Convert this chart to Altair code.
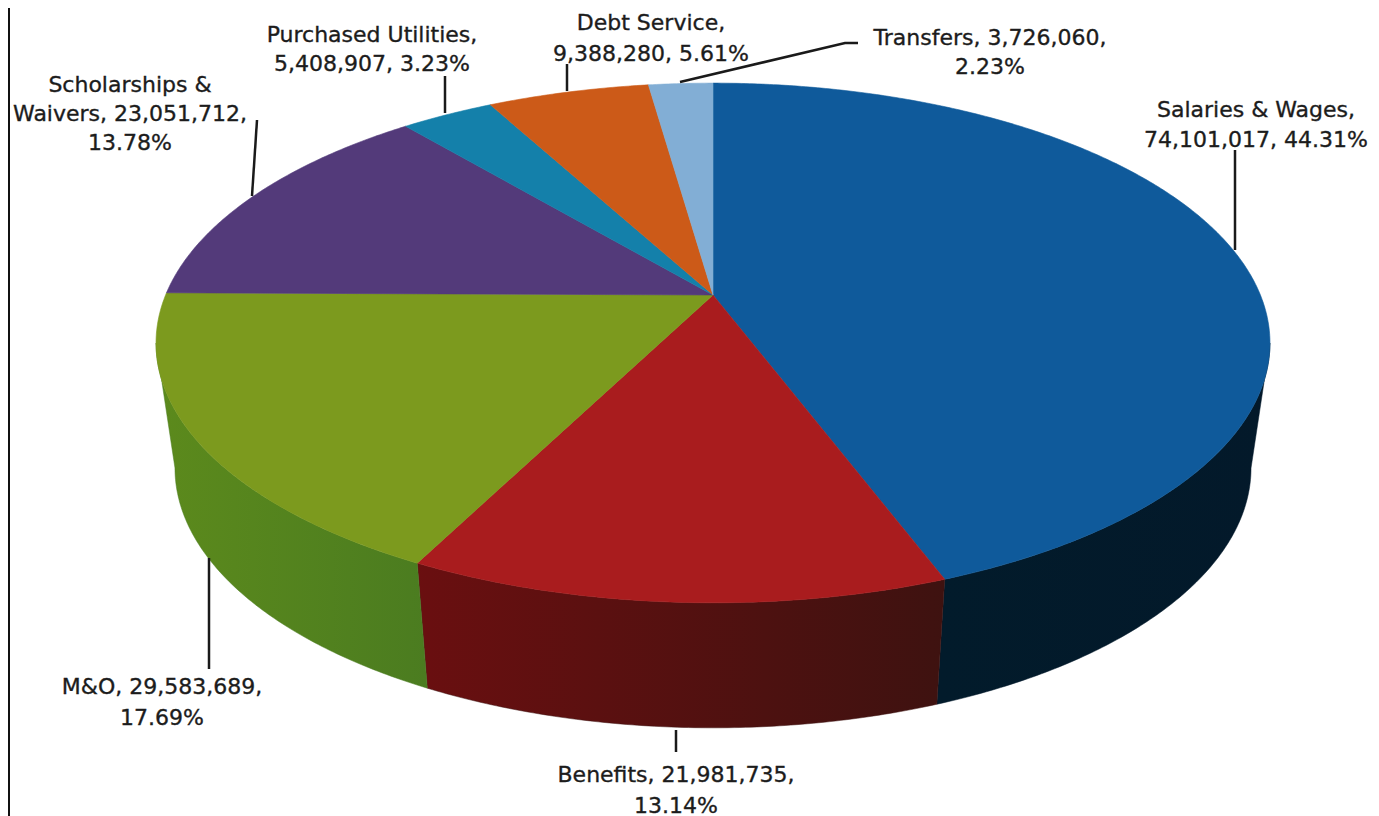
import math
import altair as alt

# ---- chart values -------------------------------------------------------
categories = ["Salaries & Wages", "Benefits", "M&O", "Scholarships & Waivers",
              "Purchased Utilities", "Debt Service", "Transfers"]
amounts = [74101017, 21981735, 29583689, 23051712, 5408907, 9388280, 3726060]
top_colors = ["#0f5a9b", "#a91c1e", "#7c9a1e", "#533a7a", "#1480aa", "#cc5a18", "#82aed5"]

label_lines = ["Salaries & Wages,", "74,101,017, 44.31%",
               "Benefits, 21,981,735,", "13.14%",
               "M&O, 29,583,689,", "17.69%",
               "Scholarships &", "Waivers, 23,051,712,", "13.78%",
               "Purchased Utilities,", "5,408,907, 3.23%",
               "Debt Service,", "9,388,280, 5.61%",
               "Transfers, 3,726,060,", "2.23%"]
label_x = [1256, 1256, 676, 676, 162, 162, 130, 130, 130, 372, 372, 651, 651, 990, 990]
label_y = [109.5, 139.5, 774.5, 805.5, 686.5, 717.5, 84.5, 113.5, 142.5, 34.5, 63.5, 22.5, 53.5, 37.5, 66.5]

leaders = [[(1235, 150), (1235, 250)],
           [(257, 120), (252, 196)],
           [(445, 76), (445, 113)],
           [(567, 64), (567, 91)],
           [(680, 82), (845, 43), (858, 43)],
           [(209, 558), (209, 669)],
           [(676, 730), (676, 752)]]

# ---- pie geometry (perspective view of a circular disc) ----------------
CX, CY, A, B, K = 713, 295, 547.4, 251, 0.1846
DEPTH, SHRINK = 125, 0.966
total = sum(amounts)


def rim(theta, lower=False):
    t = math.radians(theta)
    d = 1 + K * math.cos(t)
    x = A * math.sin(t) / d
    y = -B * math.cos(t) / d
    if lower:
        return (CX + SHRINK * x, CY + DEPTH + y)
    return (CX + x, CY + y)


def arc(t0, t1, lower=False):
    n = max(2, int(abs(t1 - t0) * 2))
    return [rim(t0 + (t1 - t0) * i / n, lower) for i in range(n + 1)]


def poly(points, name):
    pts = [list(p) for p in points]
    pts.append(pts[0])
    return {"type": "Feature", "properties": {"name": name},
            "geometry": {"type": "Polygon", "coordinates": [pts]}}


edges = [0.0]
for v in amounts:
    edges.append(edges[-1] + 360.0 * v / total)

tops = [poly([(CX, CY)] + arc(edges[i], edges[i + 1]), categories[i])
        for i in range(len(categories))]

projection = dict(type="identity", scale=1, translate=[-8, -8])


def feats(features):
    return alt.InlineData(values={"type": "FeatureCollection", "features": features},
                          format=alt.DataFormat(property="features", type="json"))


tangent = math.degrees(math.acos(-K))


def wall(t0, t1, c0, c1):
    shape = poly(arc(t0, t1) + arc(t1, t0, True), "wall")
    grad = alt.LinearGradient(gradient="linear", x1=0, x2=1, y1=0, y2=0,
                              stops=[alt.GradientStop(offset=0, color=c0),
                                     alt.GradientStop(offset=1, color=c1)])
    return alt.Chart(feats([shape])).mark_geoshape(fill=grad, stroke=c1, strokeWidth=0.5).project(**projection)


wall_layers = [
    wall(tangent, edges[1], "#021b2b", "#03192a"),
    wall(edges[1], edges[2], "#6a0f10", "#3e1210"),
    wall(edges[2], 360 - tangent, "#5c8a1c", "#4b7c20"),
]

top_layer = alt.Chart(feats(tops)).mark_geoshape(strokeWidth=0.6).encode(
    fill=alt.Fill("properties.name:N", scale=alt.Scale(domain=categories, range=top_colors), legend=None),
    stroke=alt.Stroke("properties.name:N", scale=alt.Scale(domain=categories, range=top_colors), legend=None),
).project(**projection)

lines = [{"type": "Feature", "properties": {},
          "geometry": {"type": "LineString", "coordinates": [list(p) for p in seg]}}
         for seg in leaders]
leader_layer = alt.Chart(feats(lines)).mark_geoshape(filled=False, stroke="#1a1a1a", strokeWidth=2.5).project(**projection)

frame_line = [{"type": "Feature", "properties": {},
               "geometry": {"type": "LineString", "coordinates": [[8, 0], [8, 816]]}}]
frame_layer = alt.Chart(feats(frame_line)).mark_geoshape(filled=False, stroke="#111111", strokeWidth=4).project(**projection)

text_rows = [{"t": t, "x": x, "y": y} for t, x, y in zip(label_lines, label_x, label_y)]
text_layer = alt.Chart(alt.Data(values=text_rows)).mark_text(
    font="DejaVu Sans", fontSize=22, color="#1c1c1c", stroke="#1c1c1c", strokeWidth=0.35,
    align="center", baseline="middle"
).encode(longitude="x:Q", latitude="y:Q", text="t:N").project(**projection)

chart = alt.layer(*wall_layers, top_layer, leader_layer, frame_layer, text_layer).properties(
    width=1363, height=808, padding=0, background="white"
).configure_view(stroke=None)

chart.save("out.html", embed_options={"renderer": "svg", "actions": False})
